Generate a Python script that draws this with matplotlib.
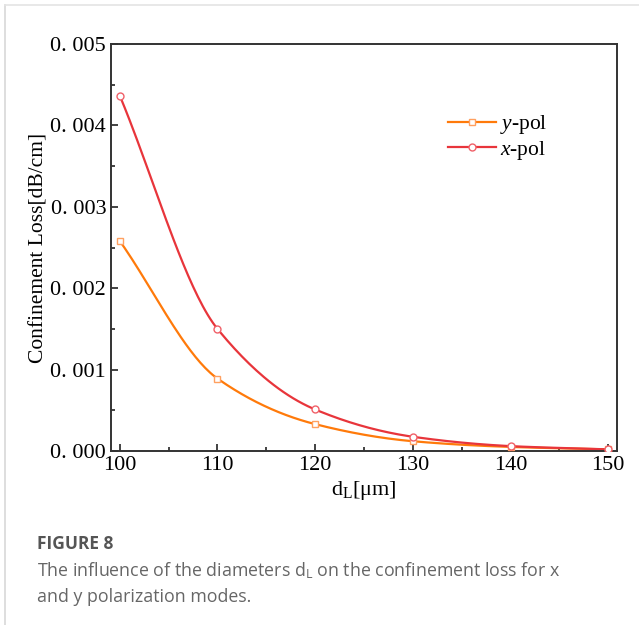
import numpy as np
import matplotlib
matplotlib.use('Agg')
from matplotlib import pyplot as plt
from matplotlib.lines import Line2D

# data
d_L = [100, 110, 120, 130, 140, 150]
loss_x = [0.004365, 0.00150, 0.00051, 0.000175, 0.00006, 0.00002]
loss_y = [0.00258, 0.00089, 0.00033, 0.00012, 0.00005, 0.00002]
yticks = [0.0, 0.001, 0.002, 0.003, 0.004, 0.005]
ytick_labels = ['0. 000', '0. 001', '0. 002', '0. 003', '0. 004', '0. 005']
xticks = [100, 110, 120, 130, 140, 150]
labels = ['y-pol', 'x-pol']


def smooth(x, y, n=40):
	# monotone cubic (pchip-like) curve through the points, only for drawing
	x = np.asarray(x, float)
	y = np.asarray(y, float)
	h = np.diff(x)
	d = np.diff(y) / h
	m = np.zeros_like(y)
	for k in range(1, len(x) - 1):
		if d[k - 1] * d[k] > 0:
			w1 = 2 * h[k] + h[k - 1]
			w2 = h[k] + 2 * h[k - 1]
			m[k] = (w1 + w2) / (w1 / d[k - 1] + w2 / d[k])
	m[0] = d[0]
	m[-1] = d[-1]
	xs, ys = [], []
	for k in range(len(x) - 1):
		t = np.linspace(0, 1, n, endpoint=(k == len(x) - 2))
		h00 = 2 * t**3 - 3 * t**2 + 1
		h10 = t**3 - 2 * t**2 + t
		h01 = -2 * t**3 + 3 * t**2
		h11 = t**3 - t**2
		xs.append(x[k] + t * h[k])
		ys.append(h00 * y[k] + h10 * h[k] * m[k] + h01 * y[k + 1] + h11 * h[k] * m[k + 1])
	return np.concatenate(xs), np.concatenate(ys)


def main():
	plt.rcParams['font.family'] = ['Liberation Serif', 'DejaVu Serif']
	plt.rcParams['mathtext.fontset'] = 'custom'
	plt.rcParams['mathtext.it'] = 'Liberation Serif:italic'
	plt.rcParams['mathtext.rm'] = 'Liberation Serif'

	fig = plt.figure(figsize=(6.39, 6.25), dpi=100)
	ax = fig.add_axes([0.1737, 0.2784, 0.7919, 0.6512])

	red = '#E8353B'
	orange = '#FF7A0A'

	sx, sy = smooth(d_L, loss_y)
	ax.plot(sx, sy, color=orange, lw=1.6, zorder=2)
	ax.plot(d_L, loss_y, ls='none', marker='s', ms=5, mfc='white', mec='#FFA060', mew=1.0, zorder=3)
	sx, sy = smooth(d_L, loss_x)
	ax.plot(sx, sy, color=red, lw=1.6, zorder=2)
	ax.plot(d_L, loss_x, ls='none', marker='o', ms=5, mfc='white', mec='#F06068', mew=1.0, zorder=3)

	ax.set_xlim(99.1, 150.9)
	ax.set_ylim(0, 0.005)
	ax.set_xticks(xticks)
	ax.set_xticks([105, 115, 125, 135, 145], minor=True)
	ax.set_yticks(yticks)
	ax.set_yticklabels(ytick_labels)
	ax.set_yticks([0.0005, 0.0015, 0.0025, 0.0035, 0.0045], minor=True)
	ax.tick_params(which='both', direction='in', labelsize=16, width=1.2, color='#222222')
	ax.tick_params(which='major', length=5)
	ax.tick_params(which='minor', length=3)
	for s in ax.spines.values():
		s.set_linewidth(1.4)
		s.set_color('#333333')

	ax.set_xlabel(r'd$_\mathregular{L}$[μm]', fontsize=16, labelpad=3)
	ax.set_ylabel('Confinement Loss[dB/cm]', fontsize=15.5, labelpad=1)

	handles = [
		Line2D([], [], color=orange, lw=1.6, marker='s', ms=5, mfc='white', mec='#FFA060'),
		Line2D([], [], color=red, lw=1.6, marker='o', ms=5, mfc='white', mec='#F06068'),
	]
	texts = [r'$\it{' + lab[0] + r'}$' + lab[1:] for lab in labels]
	ax.legend(handles, texts, loc='upper left', bbox_to_anchor=(0.628, 0.877), frameon=False,
		fontsize=15.5, handlelength=2.2, handletextpad=0.2, labelspacing=0.1)

	# card border
	fig.add_artist(Line2D([0.008, 0.008], [0, 0.992], color='#D8D8D8', lw=1.2))
	fig.add_artist(Line2D([0.008, 1], [0.992, 0.992], color='#E4E4E4', lw=1.2))

	cap = ['Open Sans', 'DejaVu Sans']
	fig.text(0.058, 0.121, 'FIGURE 8', fontsize=12.5, fontweight='bold', color='#555555', family=cap)
	fig.text(0.058, 0.078, r'The influence of the diameters d$_\mathregular{L}$ on the confinement loss for x',
		fontsize=12.8, color='#666666', family=cap)
	fig.text(0.058, 0.037, 'and y polarization modes.', fontsize=12.8, color='#666666', family=cap)

	fig.savefig('out.png', dpi=100)


if __name__ == "__main__":
	main()
